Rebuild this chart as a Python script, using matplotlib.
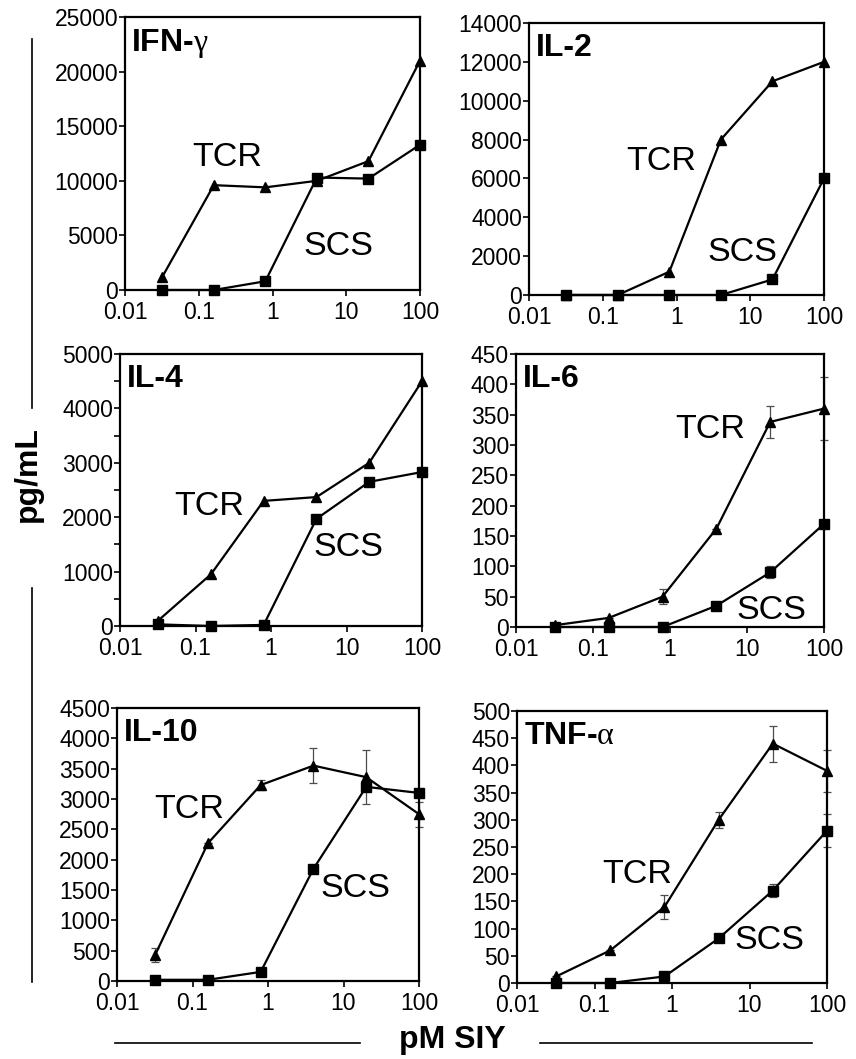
import matplotlib
matplotlib.use("Agg")
import matplotlib.pyplot as plt
from matplotlib.lines import Line2D
from matplotlib.ticker import FixedLocator, NullLocator, MultipleLocator

plt.rcParams['font.family'] = ['Liberation Sans', 'DejaVu Sans']
plt.rcParams['mathtext.fontset'] = 'custom'
plt.rcParams['mathtext.rm'] = 'Liberation Serif'

# pM SIY doses
dose = [0.032, 0.16, 0.8, 4, 20, 100]
x_ticks = [0.01, 0.1, 1, 10, 100]
x_labels = ["0.01", "0.1", "1", "10", "100"]

names = ["IFN-$\\mathrm{\\gamma}$", "IL-2", "IL-4", "IL-6", "IL-10",
         "TNF-$\\mathrm{\\alpha}$"]

tcr_ifng = [1200, 9600, 9400, 10000, 11800, 21000]
scs_ifng = [0, 0, 800, 10300, 10200, 13300]
tcr_il2 = [0, 0, 1200, 8000, 11000, 12000]
scs_il2 = [0, 0, 0, 0, 800, 6000]
tcr_il4 = [100, 950, 2300, 2370, 3000, 4500]
scs_il4 = [30, 0, 20, 1970, 2650, 2830]
tcr_il6 = [3, 15, 50, 162, 338, 360]
scs_il6 = [0, 0, 0, 35, 90, 170]
tcr_il10 = [430, 2270, 3230, 3550, 3360, 2750]
scs_il10 = [20, 20, 150, 1850, 3200, 3100]
tcr_tnf = [12, 60, 140, 300, 440, 390]
scs_tnf = [0, 0, 12, 82, 170, 280]

# error bars (where visible)
tcr_il6_err = [0, 0, 12, 0, 27, 52]
scs_il6_err = [0, 0, 0, 0, 10, 0]
tcr_il10_err = [110, 0, 80, 290, 450, 205]
scs_il10_err = [0, 0, 0, 0, 60, 0]
tcr_tnf_err = [0, 0, 22, 15, 33, 38]
scs_tnf_err = [0, 0, 0, 0, 12, 30]

tcr = [tcr_ifng, tcr_il2, tcr_il4, tcr_il6, tcr_il10, tcr_tnf]
scs = [scs_ifng, scs_il2, scs_il4, scs_il6, scs_il10, scs_tnf]
tcr_err = [None, None, None, tcr_il6_err, tcr_il10_err, tcr_tnf_err]
scs_err = [None, None, None, scs_il6_err, scs_il10_err, scs_tnf_err]

ymax = [25000, 14000, 5000, 450, 4500, 500]
ystep = [5000, 2000, 1000, 50, 500, 50]

# panel boxes in pixels: left, right, top, bottom
boxes = [(125, 420, 17, 290), (529, 824, 23, 295),
         (120, 422, 354, 626), (516, 824, 354, 627),
         (117, 419, 708, 981), (517, 827, 711, 983)]
# label positions (axes fraction)
tcr_pos = [(0.346, 0.487), (0.447, 0.49), (0.295, 0.44),
           (0.63, 0.725), (0.24, 0.63), (0.387, 0.40)]
scs_pos = [(0.722, 0.161), (0.722, 0.158), (0.755, 0.29),
           (0.83, 0.06), (0.79, 0.337), (0.813, 0.158)]

W, H = 856, 1059
fig = plt.figure(figsize=(W / 100, H / 100), dpi=100)

for i in range(6):
    l, r, t, b = boxes[i]
    ax = fig.add_axes([l / W, 1 - b / H, (r - l) / W, (b - t) / H])
    ax.set_xscale('log')
    ax.set_xlim(0.01, 100)
    ax.set_ylim(0, ymax[i])

    if tcr_err[i] is not None:
        ax.errorbar(dose, tcr[i], yerr=tcr_err[i], fmt='none', ecolor='0.3',
                    elinewidth=0.9, capsize=3, capthick=0.9, clip_on=False)
        ax.errorbar(dose, scs[i], yerr=scs_err[i], fmt='none', ecolor='0.3',
                    elinewidth=0.9, capsize=3, capthick=0.9, clip_on=False)
    ax.plot(dose, tcr[i], color='black', lw=1.6, marker='^', ms=6.5,
            clip_on=False, zorder=3)
    ax.plot(dose, scs[i], color='black', lw=1.6, marker='s', ms=7.5,
            clip_on=False, zorder=3)

    ax.xaxis.set_major_locator(FixedLocator(x_ticks))
    ax.set_xticklabels(x_labels)
    ax.xaxis.set_minor_locator(NullLocator())
    ax.yaxis.set_major_locator(MultipleLocator(ystep[i]))
    if i == 2:
        ax.yaxis.set_minor_locator(MultipleLocator(500))
    ax.tick_params(axis='both', which='major', direction='out', length=4,
                   width=1.2, labelsize=16.5, pad=1)
    ax.tick_params(axis='y', which='minor', direction='out', length=4, width=1.2)
    ax.tick_params(axis='x', pad=4)
    for s in ax.spines.values():
        s.set_linewidth(1.6)

    ax.text(0.022, 0.965, names[i], transform=ax.transAxes, ha='left', va='top',
            fontsize=23, fontweight='bold')
    ax.text(tcr_pos[i][0], tcr_pos[i][1], "TCR", transform=ax.transAxes,
            ha='center', va='center', fontsize=24.5)
    ax.text(scs_pos[i][0], scs_pos[i][1], "SCS", transform=ax.transAxes,
            ha='center', va='center', fontsize=24.5)

# decorative bracket lines and shared labels
def fline(x0, y0, x1, y1):
    fig.add_artist(Line2D([x0 / W, x1 / W], [1 - y0 / H, 1 - y1 / H],
                          color='black', lw=1.2))

fline(32, 39, 32, 408)
fline(32, 588, 32, 982)
fline(115, 1043, 360, 1043)
fline(540, 1043, 812, 1043)

fig.text(28 / W, 1 - 474 / H, "pg/mL", rotation=90, ha='center', va='center',
         fontsize=23, fontweight='bold')
fig.text(452 / W, 1 - 1040 / H, "pM SIY", ha='center', va='center',
         fontsize=23, fontweight='bold')

fig.savefig("out.png", dpi=100)
